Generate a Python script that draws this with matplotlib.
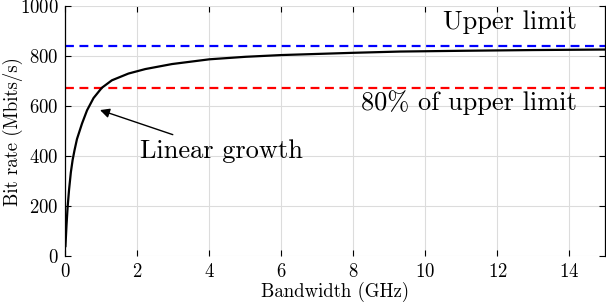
import matplotlib
matplotlib.use("Agg")
import matplotlib.pyplot as plt

# valores
bandwidth = [0, 0.03, 0.06, 0.10, 0.15, 0.20, 0.25, 0.32, 0.46, 0.60, 0.78, 1.01,
             1.29, 1.75, 2.22, 2.96, 4.0, 5.0, 6.0, 8.0, 9.3, 11.0, 13.0, 15.0]
bit_rate = [40, 125, 195, 265, 335, 385, 422, 468, 530, 583, 632, 673,
            703, 730, 748, 768, 787, 797, 804, 813, 818, 821, 824, 826]
upper_limit = 842
lim80 = 0.8 * upper_limit
xticks = [0, 2, 4, 6, 8, 10, 12, 14]
yticks = [0, 200, 400, 600, 800, 1000]

plt.rcParams["font.family"] = ["cmr10", "DejaVu Serif"]
plt.rcParams["axes.formatter.use_mathtext"] = True
plt.rcParams["mathtext.fontset"] = "cm"

fig = plt.figure(figsize=(6.06, 3.02), dpi=100)
ax = fig.add_axes([0.108, 0.152, 0.891, 0.828])

ax.plot(bandwidth, bit_rate, color="black", lw=1.6, zorder=3)
ax.axhline(upper_limit, color="#0000ff", ls=(0, (4, 2.5)), lw=1.6, zorder=2)
ax.axhline(lim80, color="#ff0000", ls=(0, (4, 2.5)), lw=1.6, zorder=2)

ax.text(14.2, 936, "Upper limit", fontsize=19, ha="right", va="center")
ax.text(14.2, 612, "80% of upper limit", fontsize=19, ha="right", va="center")
ax.annotate("Linear growth", xy=(0.96, 584), xytext=(2.07, 420), fontsize=19,
            ha="left", va="center",
            arrowprops=dict(arrowstyle="-|>", color="black", lw=1.0,
                            mutation_scale=14, shrinkA=4, shrinkB=0))

ax.set_xlim(0, 15)
ax.set_ylim(0, 1000)
ax.set_xticks(xticks)
ax.set_yticks(yticks)
ax.grid(True, color="#dcdcdc", lw=0.8)
ax.set_axisbelow(True)
ax.tick_params(direction="in", length=4, width=0.8, top=True, right=True,
               labelsize=13.5, pad=5)
for s in ("top", "bottom"):
    ax.spines[s].set_visible(False)
for s in ("left", "right"):
    ax.spines[s].set_linewidth(0.9)

ax.set_xlabel("Bandwidth (GHz)", fontsize=13.5)
ax.xaxis.set_label_coords(0.5, -0.102)
ax.set_ylabel("Bit rate (Mbits/s)", fontsize=13.5)
ax.yaxis.set_label_coords(-0.079, 0.5)

fig.savefig("out.png", dpi=100, facecolor="white")
